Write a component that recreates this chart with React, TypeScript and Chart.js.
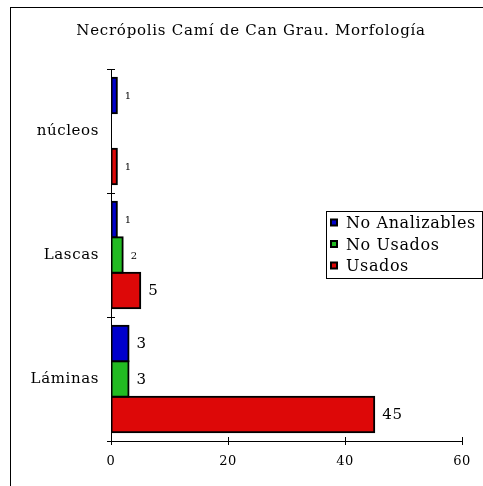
import React, { useEffect, useRef } from "react";
import { Chart, registerables } from "chart.js";

Chart.register(...registerables);

const chartTitle = "Necrópolis Camí de Can Grau. Morfología";
const categories = ["núcleos", "Lascas", "Láminas"];
const seriesNames = ["No Analizables", "No Usados", "Usados"];
const noAnalizables = [1, 1, 3];
const noUsados = [null, 2, 3];
const usados = [1, 5, 45];
const seriesColors = ["#0000CC", "#22BB22", "#DD0808"];
const labelSizes = [
  [10, 10, 15],
  [10, 10, 15],
  [10, 15, 15],
];
const xTicks = [0, 20, 40, 60];

const FONT = "'DejaVu Serif', serif";

const framePlugin = {
  id: "frame",
  beforeDraw(chart: any) {
    const ctx = chart.ctx;
    ctx.fillStyle = "#ffffff";
    ctx.fillRect(0, 0, chart.width, chart.height);
    ctx.strokeStyle = "#000000";
    ctx.lineWidth = 1;
    ctx.strokeRect(10.5, 7.5, chart.width + 20, chart.height + 20);
    (ctx as any).letterSpacing = "0.6px";
  },
  afterDraw(chart: any) {
    (chart.ctx as any).letterSpacing = "0px";
  },
};

const titlePlugin = {
  id: "frameTitle",
  afterDraw(chart: any) {
    const ctx = chart.ctx;
    ctx.save();
    (ctx as any).letterSpacing = "0.75px";
    ctx.font = `15px ${FONT}`;
    ctx.fillStyle = "#000000";
    ctx.textAlign = "center";
    ctx.textBaseline = "middle";
    ctx.fillText(chartTitle, 251, 31);
    ctx.restore();
  },
};

const crossTicksPlugin = {
  id: "crossTicks",
  afterDraw(chart: any) {
    const ctx = chart.ctx;
    const x = chart.scales.x;
    const y = chart.scales.y;
    ctx.save();
    ctx.strokeStyle = "#000000";
    ctx.lineWidth = 1;
    ctx.beginPath();
    xTicks.forEach((v) => {
      const px = Math.round(x.getPixelForValue(v)) + 0.5;
      ctx.moveTo(px, y.bottom - 4);
      ctx.lineTo(px, y.bottom);
    });
    for (let i = 0; i <= categories.length; i++) {
      const py = Math.round(y.getPixelForValue(i - 0.5)) + 0.5;
      ctx.moveTo(x.left, py);
      ctx.lineTo(x.left + 4, py);
    }
    ctx.stroke();
    ctx.restore();
  },
};

const valueLabelsPlugin = {
  id: "valueLabels",
  afterDatasetsDraw(chart: any) {
    const ctx = chart.ctx;
    ctx.save();
    ctx.fillStyle = "#000000";
    ctx.textAlign = "left";
    ctx.textBaseline = "middle";
    chart.data.datasets.forEach((ds: any, di: number) => {
      const meta = chart.getDatasetMeta(di);
      meta.data.forEach((el: any, i: number) => {
        const v = ds.data[i];
        if (v === null || v === undefined) return;
        ctx.font = `${labelSizes[di][i]}px ${FONT}`;
        ctx.fillText(String(v), el.x + 8, el.y + 1);
      });
    });
    ctx.restore();
  },
};

const boxLegendPlugin = {
  id: "boxLegend",
  afterDraw(chart: any) {
    const ctx = chart.ctx;
    const left = 326.5;
    const top = 211.5;
    const w = 156;
    const h = 67;
    ctx.save();
    ctx.fillStyle = "#ffffff";
    ctx.fillRect(left, top, w, h);
    ctx.strokeStyle = "#000000";
    ctx.lineWidth = 1;
    ctx.strokeRect(left, top, w, h);
    ctx.font = `16px ${FONT}`;
    (ctx as any).letterSpacing = "0.6px";
    ctx.textBaseline = "middle";
    ctx.textAlign = "left";
    chart.data.datasets.forEach((ds: any, i: number) => {
      const cy = top + 11.5 + i * 21.5;
      ctx.fillStyle = "#000000";
      ctx.fillRect(left + 3.5, cy - 4.5, 8, 8);
      ctx.fillStyle = ds.backgroundColor;
      ctx.fillRect(left + 5.5, cy - 2.5, 4, 4);
      ctx.fillStyle = "#000000";
      ctx.fillText(ds.label, left + 19.5, cy + 1);
    });
    ctx.restore();
  },
};

export default function App() {
  const ref = useRef<HTMLCanvasElement | null>(null);
  useEffect(() => {
    if (!ref.current) return;
    const seriesData = [noAnalizables, noUsados, usados];
    const chart = new Chart(ref.current, {
      type: "bar",
      data: {
        labels: categories,
        datasets: seriesNames.map((name, i) => ({
          label: name,
          data: seriesData[i] as any,
          backgroundColor: seriesColors[i],
          borderColor: "#000000",
          borderWidth: 2,
          borderSkipped: false,
          inflateAmount: 1,
          categoryPercentage: 0.86,
          barPercentage: 1,
        })),
      },
      options: {
        indexAxis: "y",
        responsive: false,
        animation: false,
        layout: { padding: { top: 69, left: 11, right: 21, bottom: 0 } },
        plugins: {
          legend: { display: false },
          tooltip: { enabled: false },
          title: { display: false },
        },
        scales: {
          x: {
            type: "linear",
            min: 0,
            max: 60,
            afterBuildTicks(scale: any) {
              scale.ticks = xTicks.map((v) => ({ value: v }));
            },
            afterFit(scale: any) {
              scale.height = 45;
            },
            grid: {
              drawOnChartArea: false,
              drawTicks: true,
              tickLength: 4,
              color: "#000000",
            },
            border: { display: true, color: "#000000", width: 1 },
            ticks: {
              color: "#000000",
              padding: 9,
              font: { family: FONT, size: 13 },
              maxRotation: 0,
            },
          },
          y: {
            type: "category",
            afterFit(scale: any) {
              scale.width = 100;
            },
            grid: {
              offset: true,
              drawOnChartArea: false,
              drawTicks: true,
              tickLength: 4,
              color: "#000000",
            },
            border: { display: true, color: "#000000", width: 1 },
            ticks: {
              color: "#000000",
              padding: 8,
              font: { family: FONT, size: 15 },
            },
          },
        },
      },
      plugins: [framePlugin, titlePlugin, crossTicksPlugin, valueLabelsPlugin, boxLegendPlugin],
    });
    return () => chart.destroy();
  }, []);
  return (
    <div style={{ position: "absolute", left: 0, top: 0, width: 483, height: 486 }}>
      <canvas ref={ref} width={483} height={486} />
    </div>
  );
}
